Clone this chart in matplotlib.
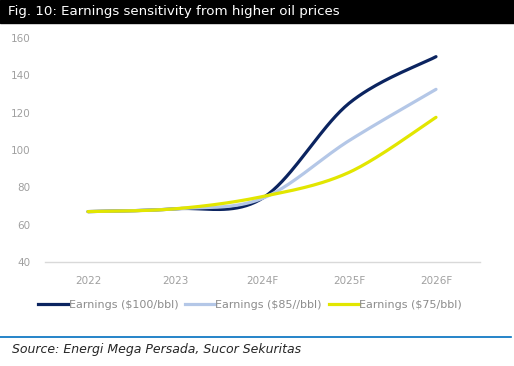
import numpy as np
import matplotlib.pyplot as plt
from matplotlib.lines import Line2D

# Chart data
years = ['2022', '2023', '2024F', '2025F', '2026F']
earn_100 = [67, 68.5, 74, 125, 150]
earn_85 = [67, 68.5, 74, 105, 132.5]
earn_75 = [67, 68.5, 75, 88, 117.5]
series_names = ['Earnings ($100/bbl)', 'Earnings ($85//bbl)', 'Earnings ($75/bbl)']
colors = ['#0b2460', '#b4c7e7', '#e2e600']


def smooth(xs, ys, n=40):
    # Excel-style smoothed line: cubic Bezier with Catmull-Rom control points
    p = np.column_stack([xs, ys]).astype(float)
    p_ext = np.vstack([p[0], p, p[-1]])
    out = []
    t = np.linspace(0, 1, n)[:, None]
    for i in range(len(p) - 1):
        p0, p1, p2, p3 = p_ext[i], p_ext[i + 1], p_ext[i + 2], p_ext[i + 3]
        c1 = p1 + (p2 - p0) / 6
        c2 = p2 - (p3 - p1) / 6
        seg = (1 - t) ** 3 * p1 + 3 * (1 - t) ** 2 * t * c1 + 3 * (1 - t) * t ** 2 * c2 + t ** 3 * p2
        out.append(seg if i == 0 else seg[1:])
    out = np.vstack(out)
    return out[:, 0], out[:, 1]


plt.rcParams['font.family'] = ['DejaVu Sans']

fig = plt.figure(figsize=(5.14, 3.66), dpi=100)
W, H = 514, 366

# black title bar
fig.patches.append(plt.Rectangle((0, 1 - 23 / H), 1, 23 / H, transform=fig.transFigure,
                                 color='black', zorder=0))
fig.text(8 / W, 1 - 12 / H, 'Fig. 10: Earnings sensitivity from higher oil prices',
         color='white', fontsize=9.6, va='center', ha='left')

ax = fig.add_axes([44.5 / W, 1 - 262 / H, 435 / W, 224 / H])
x = np.arange(len(years))
for vals, name, c in zip([earn_100, earn_85, earn_75], series_names, colors):
    sx, sy = smooth(x, vals)
    ax.plot(sx, sy, color=c, lw=2.3, solid_capstyle='round', label=name)

ax.set_xlim(-0.5, len(years) - 0.5)
ax.set_ylim(40, 160)
ax.set_yticks(range(40, 161, 20))
ax.set_xticks(x)
ax.set_xticklabels(years)
for s in ['top', 'right', 'left']:
    ax.spines[s].set_visible(False)
ax.spines['bottom'].set_color('#d9d9d9')
ax.spines['bottom'].set_linewidth(1)
ax.tick_params(axis='both', length=0, colors='#a0a0a0', labelsize=7.5)
ax.tick_params(axis='x', pad=10)
ax.tick_params(axis='y', pad=10)

handles = [Line2D([0], [0], color=c, lw=2.3) for c in colors]
fig.legend(handles, series_names, loc='center', bbox_to_anchor=(250 / W, 1 - 305 / H),
           ncol=3, frameon=False, fontsize=8, labelcolor='#8c8c8c',
           handlelength=2.7, handletextpad=0.05, columnspacing=0.6)

# blue separator line and source
fig.add_artist(Line2D([0, 511 / W], [1 - 337 / H, 1 - 337 / H], transform=fig.transFigure,
                      color='#0070c0', lw=1.2))
fig.text(12 / W, 1 - 349 / H, 'Source: Energi Mega Persada, Sucor Sekuritas',
         fontsize=9, style='italic', color='#262626', va='center', ha='left')

fig.savefig('out.png', dpi=100)
